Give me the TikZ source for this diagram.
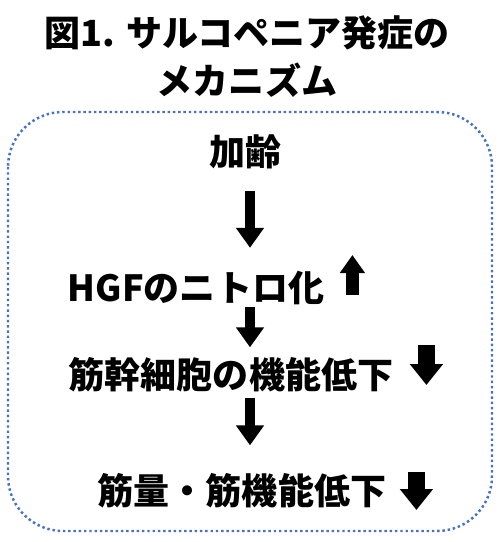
\documentclass[tikz,border=0pt]{standalone}
\usepackage{fontspec}
\setmainfont{Noto Sans CJK JP}
\usepackage{xcolor}
\usetikzlibrary{arrows.meta, positioning}
\definecolor{frameblue}{HTML}{4472C4}

\begin{document}
\begin{tikzpicture}[
    x=0.02cm, y=-0.02cm,
    txt/.style={font=\bfseries\fontsize{20.5}{24}\selectfont, inner sep=0pt},
    frame/.style={draw=frameblue, line width=1.4pt, dash pattern=on 1.4pt off 1.6pt, rounded corners=1.1cm},
    flow/.style={line width=0.2cm, -{Triangle[length=0.4cm, width=0.54cm]}},
    trend/.style={line width=0.33cm, -{Triangle[length=0.42cm, width=0.64cm]}}
]
\useasboundingbox (0,0) rectangle (500,542);

% title
\node[txt] (title1) at (247,33) {図1. サルコペニア発症の};
\node[txt] (title2) at (247,80) {メカニズム};

% dotted frame
\draw[frame] (8,112) rectangle (492,531);

% steps
\node[txt] (age) at (246,152) {加齢};
\node[txt] (hgf) at (196,288) {HGFのニトロ化};
\node[txt] (stem) at (231,375) {筋幹細胞の機能低下};
\node[txt] (mass) at (242,491) {筋量・筋機能低下};

% flow arrows
\coordinate (axis) at (250,0);
\draw[flow, shorten <=0.44cm, shorten >=0.46cm] (axis |- age.south) -- (axis |- hgf.north);
\draw[flow, shorten <=0.04cm, shorten >=0.2cm] (axis |- hgf.south) -- (axis |- stem.north);
\draw[flow, shorten <=0.1cm, shorten >=0.56cm] (axis |- stem.south) -- (axis |- mass.north);

% up / down marks
\draw[trend, line width=0.26cm, -{Triangle[length=0.36cm, width=0.48cm]}]
    ([shift={(28,7)}]hgf.east) -- ([shift={(28,-33)}]hgf.east);
\draw[trend] ([shift={(33,-30)}]stem.east) -- ([shift={(33,10)}]stem.east);
\draw[trend] ([shift={(30,-19)}]mass.east) -- ([shift={(30,19)}]mass.east);

\end{tikzpicture}
\end{document}
